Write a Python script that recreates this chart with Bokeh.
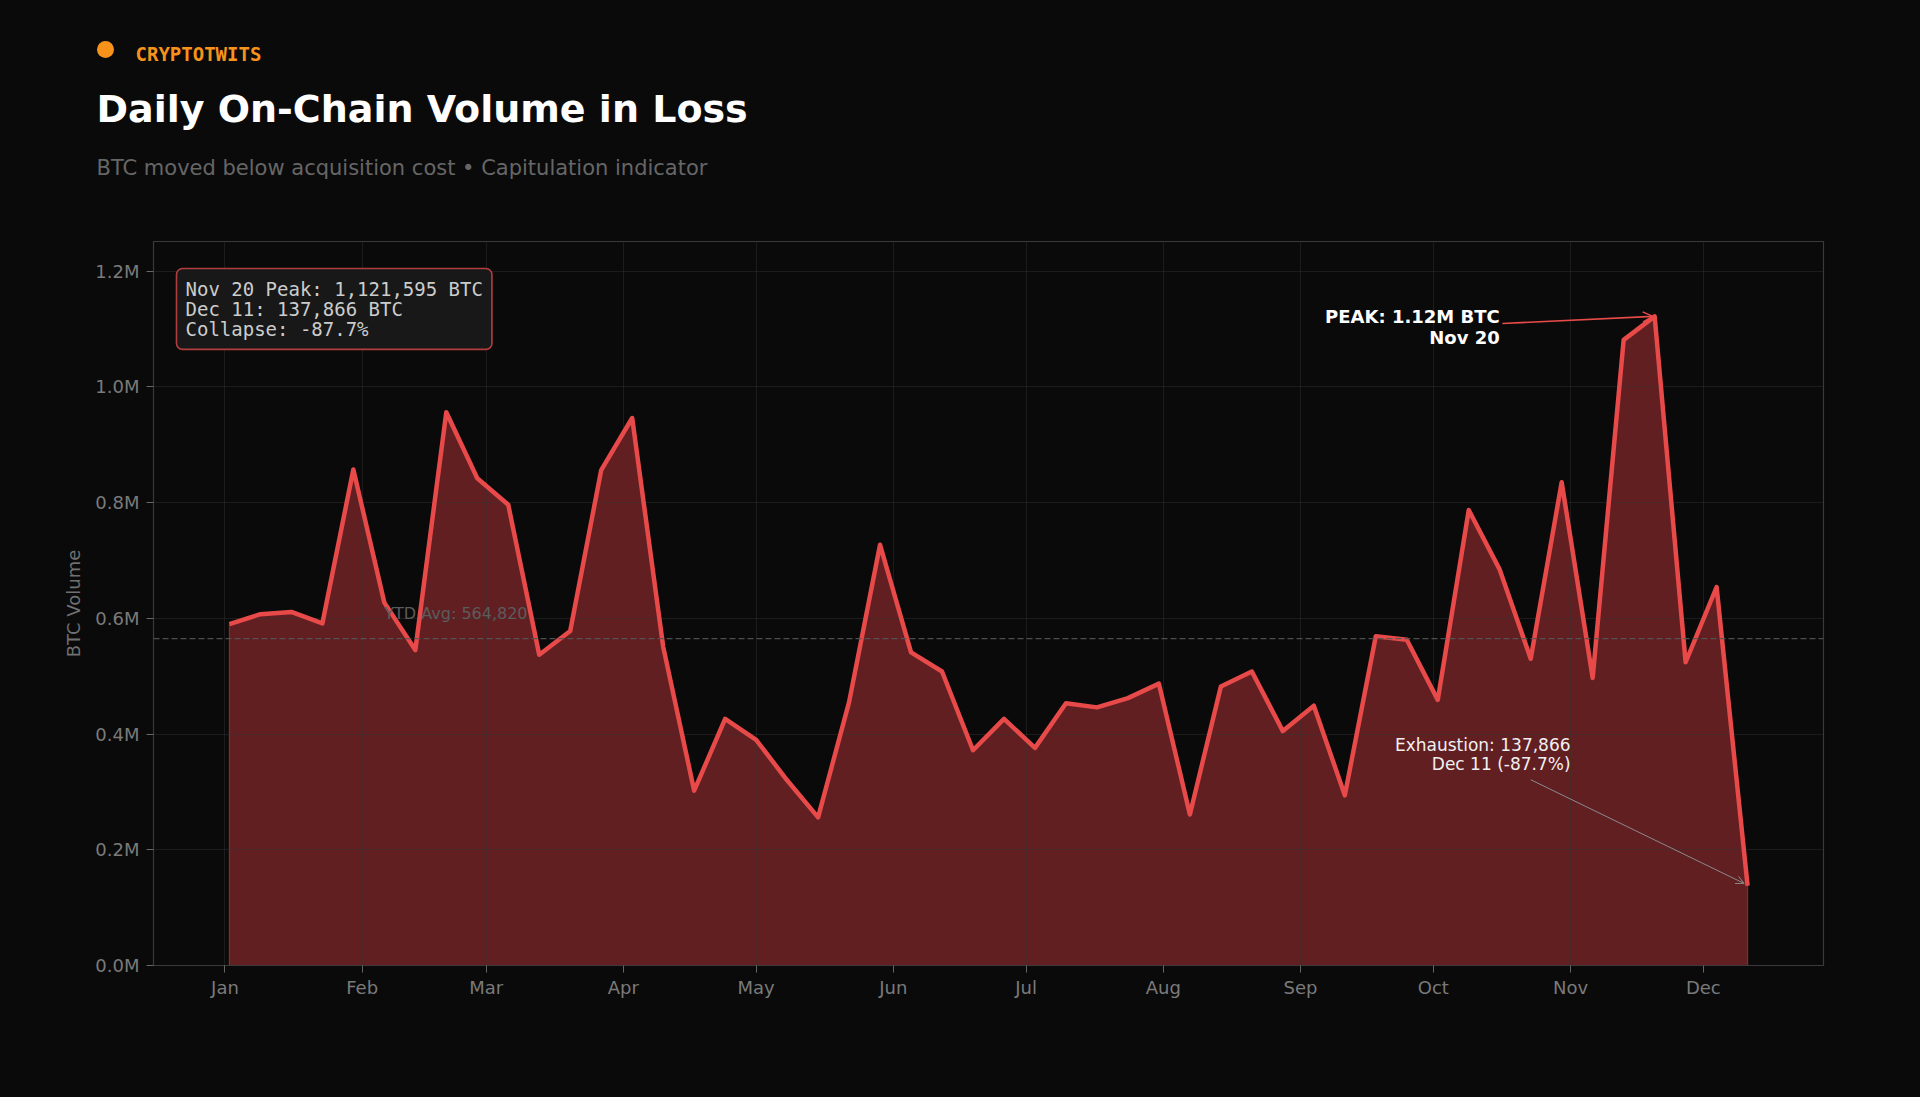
from datetime import datetime, timedelta

from bokeh.plotting import figure
from bokeh.layouts import column
from bokeh.models import (Range1d, FixedTicker, CustomJSTickFormatter, Label,
                          Arrow, OpenHead, Span, ColumnDataSource)
from bokeh.core.properties import value
from bokeh.embed import file_html
from bokeh.resources import INLINE

try:
    from bokeh.models import GlobalInlineStyleSheet
except Exception:
    GlobalInlineStyleSheet = None

# ---------------- data ----------------
dates = ["2025-01-02", "2025-01-09", "2025-01-16", "2025-01-23", "2025-01-30",
         "2025-02-06", "2025-02-13", "2025-02-20", "2025-02-27",
         "2025-03-06", "2025-03-13", "2025-03-20", "2025-03-27",
         "2025-04-03", "2025-04-10", "2025-04-17", "2025-04-24",
         "2025-05-01", "2025-05-08", "2025-05-15", "2025-05-22", "2025-05-29",
         "2025-06-05", "2025-06-12", "2025-06-19", "2025-06-26",
         "2025-07-03", "2025-07-10", "2025-07-17", "2025-07-24", "2025-07-31",
         "2025-08-07", "2025-08-14", "2025-08-21", "2025-08-28",
         "2025-09-04", "2025-09-11", "2025-09-18", "2025-09-25",
         "2025-10-02", "2025-10-09", "2025-10-16", "2025-10-23", "2025-10-30",
         "2025-11-06", "2025-11-13", "2025-11-20", "2025-11-27",
         "2025-12-04", "2025-12-11"]

volume_btc = [590000, 607000, 611000, 591000, 857000, 627000, 545000, 956000, 842000, 796000,
              537000, 578000, 856000, 946000, 551000, 302000, 426000, 390000, 320000, 256000,
              455000, 727000, 541000, 508000, 372000, 426000, 376000, 453000, 446000, 462000,
              487000, 261000, 482000, 508000, 405000, 449000, 294000, 569000, 563000, 459000,
              787000, 684000, 530000, 835000, 497000, 1081000, 1121595, 524000, 654000, 137866]

ytd_avg = 564820
peak_value = 1121595
peak_date = "2025-11-20"
last_value = 137866
last_date = "2025-12-11"
collapse_pct = -87.7

month_ticks = ["2025-01-01", "2025-02-01", "2025-03-01", "2025-04-01", "2025-05-01",
               "2025-06-01", "2025-07-01", "2025-08-01", "2025-09-01", "2025-10-01",
               "2025-11-01", "2025-12-01"]
y_ticks = [0, 200000, 400000, 600000, 800000, 1000000, 1200000]

brand = "CRYPTOTWITS"
title = "Daily On-Chain Volume in Loss"
subtitle = "BTC moved below acquisition cost \u2022 Capitulation indicator"
y_label = "BTC Volume"

# ---------------- helpers ----------------
def d(s):
    return datetime.strptime(s, "%Y-%m-%d")

def ms(dt):
    return (dt - datetime(1970, 1, 1)).total_seconds() * 1000.0

x_dates = [d(s) for s in dates]
BG = "#0a0a0a"
RED = "#e84a4a"
ORANGE = "#f7931a"
W = 1912

# ---------------- header figure (pixel coordinates) ----------------
HH = 200
h = figure(width=W, height=HH, output_backend="svg", toolbar_location=None,
           x_axis_type=None, y_axis_type=None,
           x_range=Range1d(0, W), y_range=Range1d(HH, 0),
           min_border=0)
h.background_fill_color = BG
h.border_fill_color = BG
h.outline_line_color = None
h.grid.visible = False
h.frame_align = False

h.scatter([105], [49], size=17, marker="circle", fill_color=ORANGE, line_color=None)
h.text([135], [53], text=[brand], text_color=ORANGE, text_font=value("DejaVu Sans Mono"),
       text_font_size="19px", text_font_style="bold", text_align="left",
       text_baseline="alphabetic")
h.text([96], [108], text=[title], text_color="#ffffff", text_font=value("DejaVu Sans"),
       text_font_size="38px", text_font_style="bold", text_align="left",
       text_baseline="alphabetic")
h.text([96], [167.5], text=[subtitle], text_color="#666666", text_font=value("DejaVu Sans"),
       text_font_size="21px", text_align="left", text_baseline="alphabetic")

# ---------------- main figure ----------------
pad = timedelta(days=17.15)
p = figure(width=W, height=890, output_backend="svg", toolbar_location=None,
           x_axis_type="datetime",
           x_range=Range1d(x_dates[0] - pad, x_dates[-1] + pad),
           y_range=Range1d(0, 1251000),
           min_border_left=153, min_border_right=89,
           min_border_top=41, min_border_bottom=125)
p.frame_align = False
p.background_fill_color = BG
p.border_fill_color = BG
p.outline_line_color = "#3a3a3a"
p.outline_line_width = 1.2

# area fill (drawn below grid)
xs_fill = [x_dates[0]] + x_dates + [x_dates[-1]]
ys_fill = [0] + volume_btc + [0]
fill_r = p.patch(xs_fill, ys_fill, fill_color="#611f22", fill_alpha=1.0,
                 line_color="#8a3032", line_width=1.2, line_alpha=0.9)
fill_r.level = "image"

# main line
src = ColumnDataSource(dict(x=x_dates, y=volume_btc))
p.line("x", "y", source=src, line_color=RED, line_width=4.5, line_join="round")

# YTD average
p.add_layout(Span(location=ytd_avg, dimension="width", line_color="#555555",
                  line_dash="6 3", line_width=1.4, line_alpha=0.9))
p.add_layout(Label(x=ms(x_dates[5]), y=ytd_avg + 27000,
                   text=f"YTD Avg: {ytd_avg:,}", text_color="#5c5c5c",
                   text_font="DejaVu Sans", text_font_size="16px",
                   text_align="left", text_baseline="bottom"))

# axes
p.xaxis.ticker = FixedTicker(ticks=[ms(d(s)) for s in month_ticks])
p.xaxis.formatter = CustomJSTickFormatter(code="""
const m = ['Jan','Feb','Mar','Apr','May','Jun','Jul','Aug','Sep','Oct','Nov','Dec'];
return m[new Date(tick).getUTCMonth()];
""")
p.yaxis.ticker = FixedTicker(ticks=y_ticks)
p.yaxis.formatter = CustomJSTickFormatter(code="return (tick/1e6).toFixed(1) + 'M';")
p.yaxis.axis_label = y_label

for ax in (p.xaxis[0], p.yaxis[0]):
    ax.axis_line_color = "#3a3a3a"
    ax.major_tick_line_color = "#666666"
    ax.major_tick_out = 7
    ax.major_tick_in = 0
    ax.minor_tick_line_color = None
    ax.major_label_text_color = "#7a7a7a"
    ax.major_label_text_font = "DejaVu Sans"
    ax.major_label_text_font_size = "18px"
    ax.axis_label_text_color = "#707070"
    ax.axis_label_text_font = "DejaVu Sans"
    ax.axis_label_text_font_size = "18px"
    ax.axis_label_text_font_style = "normal"
p.xaxis.major_label_standoff = 4
p.yaxis.major_label_standoff = 7
p.yaxis.axis_label_standoff = 8

p.grid.grid_line_color = "#333333"
p.grid.grid_line_alpha = 0.45
p.grid.grid_line_width = 1
p.xgrid.ticker = p.xaxis.ticker
p.ygrid.ticker = p.yaxis.ticker

# ---------------- info box ----------------
info = (f"{d(peak_date):%b} {d(peak_date).day} Peak: {peak_value:,} BTC\n"
        f"{d(last_date):%b} {d(last_date).day}: {last_value:,} BTC\n"
        f"Collapse: {collapse_pct:.1f}%")
p.add_layout(Label(x=23, y=697, x_units="screen", y_units="screen", text=info,
                   text_color="#cccccc", text_font="DejaVu Sans Mono", text_font_size="19px",
                   text_align="left", text_baseline="top", text_line_height=0.93,
                   background_fill_color="#181818", background_fill_alpha=1.0,
                   border_line_color="#c24444", border_line_width=1.6, border_line_alpha=0.9,
                   border_radius=6, padding=9))

# ---------------- peak annotation ----------------
pk = d(peak_date)
p.add_layout(Label(x=ms(pk - timedelta(days=35)), y=peak_value * 0.984,
                   text=f"PEAK: {peak_value/1e6:.2f}M BTC\n{pk:%b} {pk.day}",
                   text_color="#ffffff", text_font="DejaVu Sans", text_font_size="18px",
                   text_font_style="bold", text_align="right", text_baseline="middle",
                   text_line_height=0.99))
p.add_layout(Arrow(x_start=ms(pk - timedelta(days=34.4)), y_start=peak_value * 0.989,
                   x_end=ms(pk - timedelta(days=0.4)), y_end=peak_value,
                   line_color=RED, line_width=1.6,
                   end=OpenHead(line_color=RED, line_width=1.6, size=10)))

# ---------------- exhaustion annotation ----------------
ld = d(last_date)
p.add_layout(Label(x=ms(ld - timedelta(days=40)), y=364000,
                   text=f"Exhaustion: {last_value:,}\n{ld:%b} {ld.day} ({collapse_pct:.1f}%)",
                   text_color="#f0f0f0", text_font="DejaVu Sans", text_font_size="17px",
                   text_align="right", text_baseline="middle", text_line_height=0.96))
p.add_layout(Arrow(x_start=ms(ld - timedelta(days=49)), y_start=321000,
                   x_end=ms(ld - timedelta(days=0.8)), y_end=last_value + 4000,
                   line_color="#8a8a8a", line_width=1.0,
                   end=OpenHead(line_color="#8a8a8a", line_width=1.0, size=8)))

layout = column(h, p, spacing=0)
if GlobalInlineStyleSheet is not None:
    layout.stylesheets = [GlobalInlineStyleSheet(css=f"html, body {{ background: {BG}; }}")]

open("out.html", "w").write(file_html(layout, INLINE))
